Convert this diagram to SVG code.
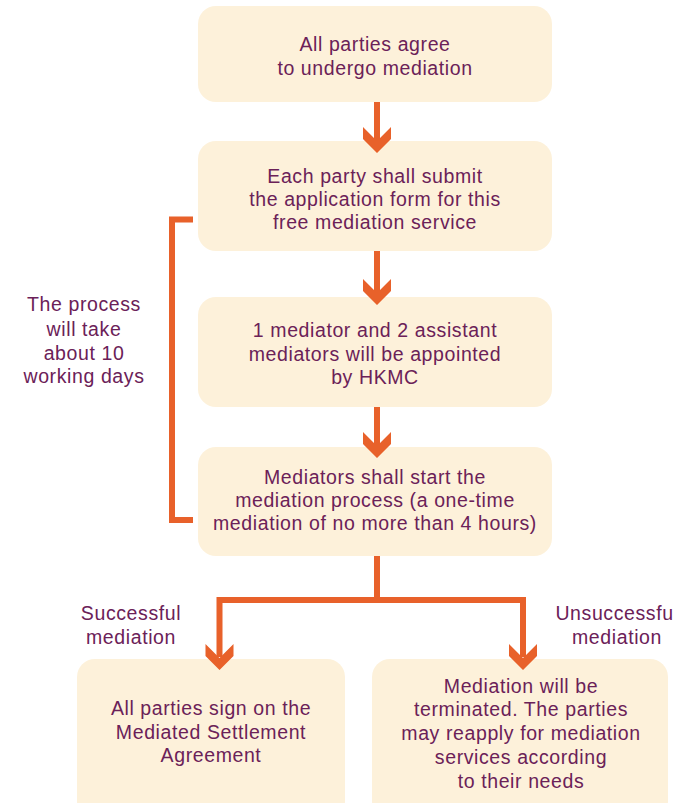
<svg xmlns="http://www.w3.org/2000/svg" width="673" height="803" viewBox="0 0 673 803">
<defs>
<style>
.box{fill:#FDF1DA;}
.t{font-family:"Liberation Sans",Arial,sans-serif;font-size:19.5px;fill:#6B2158;text-anchor:middle;letter-spacing:0.6px;}
.ln{fill:none;stroke:#E8612A;stroke-width:6;}
.hd{fill:#E8612A;}
</style>
</defs>
<rect width="673" height="803" fill="#FFFFFF"/>
<g id="node-agree">
<rect class="box" x="198" y="6" width="354" height="96" rx="18"/>
<text class="t" x="375" y="51">All parties agree</text>
<text class="t" x="375" y="75">to undergo mediation</text>
</g>
<g id="node-submit">
<rect class="box" x="198" y="141" width="354" height="110" rx="18"/>
<text class="t" x="375" y="183">Each party shall submit</text>
<text class="t" x="375" y="206">the application form for this</text>
<text class="t" x="375" y="229">free mediation service</text>
</g>
<g id="node-appoint">
<rect class="box" x="198" y="297" width="354" height="110" rx="18"/>
<text class="t" x="375" y="337">1 mediator and 2 assistant</text>
<text class="t" x="375" y="361">mediators will be appointed</text>
<text class="t" x="375" y="384">by HKMC</text>
</g>
<g id="node-start">
<rect class="box" x="198" y="447" width="354" height="109" rx="18"/>
<text class="t" x="375" y="484">Mediators shall start the</text>
<text class="t" x="375" y="507">mediation process (a one-time</text>
<text class="t" x="375" y="530">mediation of no more than 4 hours)</text>
</g>
<g id="node-success">
<rect class="box" x="77" y="659" width="268" height="160" rx="18"/>
<text class="t" x="211" y="715">All parties sign on the</text>
<text class="t" x="211" y="739">Mediated Settlement</text>
<text class="t" x="211" y="762">Agreement</text>
</g>
<g id="node-fail">
<rect class="box" x="372" y="659" width="296" height="160" rx="18"/>
<text class="t" x="521" y="693">Mediation will be</text>
<text class="t" x="521" y="716">terminated. The parties</text>
<text class="t" x="521" y="740">may reapply for mediation</text>
<text class="t" x="521" y="764">services according</text>
<text class="t" x="521" y="788">to their needs</text>
</g>
<g id="label-duration">
<text class="t" x="84" y="311">The process</text>
<text class="t" x="84" y="336">will take</text>
<text class="t" x="84" y="360">about 10</text>
<text class="t" x="84" y="383">working days</text>
</g>
<g id="label-success">
<text class="t" x="131" y="620">Successful</text>
<text class="t" x="131" y="644">mediation</text>
</g>
<g id="label-fail">
<text class="t" x="617" y="620">Unsuccessful</text>
<text class="t" x="617" y="644">mediation</text>
</g>
<g id="connectors">
<polyline class="ln" points="193,219.5 172,219.5 172,520 193,520"/>
<line class="ln" x1="377" y1="102" x2="377" y2="141"/>
<polygon class="hd" points="363,127 377,141 391,127 391,139 377,153 363,139"/>
<line class="ln" x1="377" y1="251" x2="377" y2="293"/>
<polygon class="hd" points="363,279 377,293 391,279 391,291 377,305 363,291"/>
<line class="ln" x1="377" y1="407" x2="377" y2="446"/>
<polygon class="hd" points="363,432 377,446 391,432 391,444 377,458 363,444"/>
<polyline class="ln" points="377,556 377,600"/>
<polyline class="ln" points="219.5,657 219.5,600 523,600 523,657"/>
<polygon class="hd" points="205.5,644 219.5,658 233.5,644 233.5,656 219.5,670 205.5,656"/>
<polygon class="hd" points="509,644 523,658 537,644 537,656 523,670 509,656"/>
</g>
</svg>
